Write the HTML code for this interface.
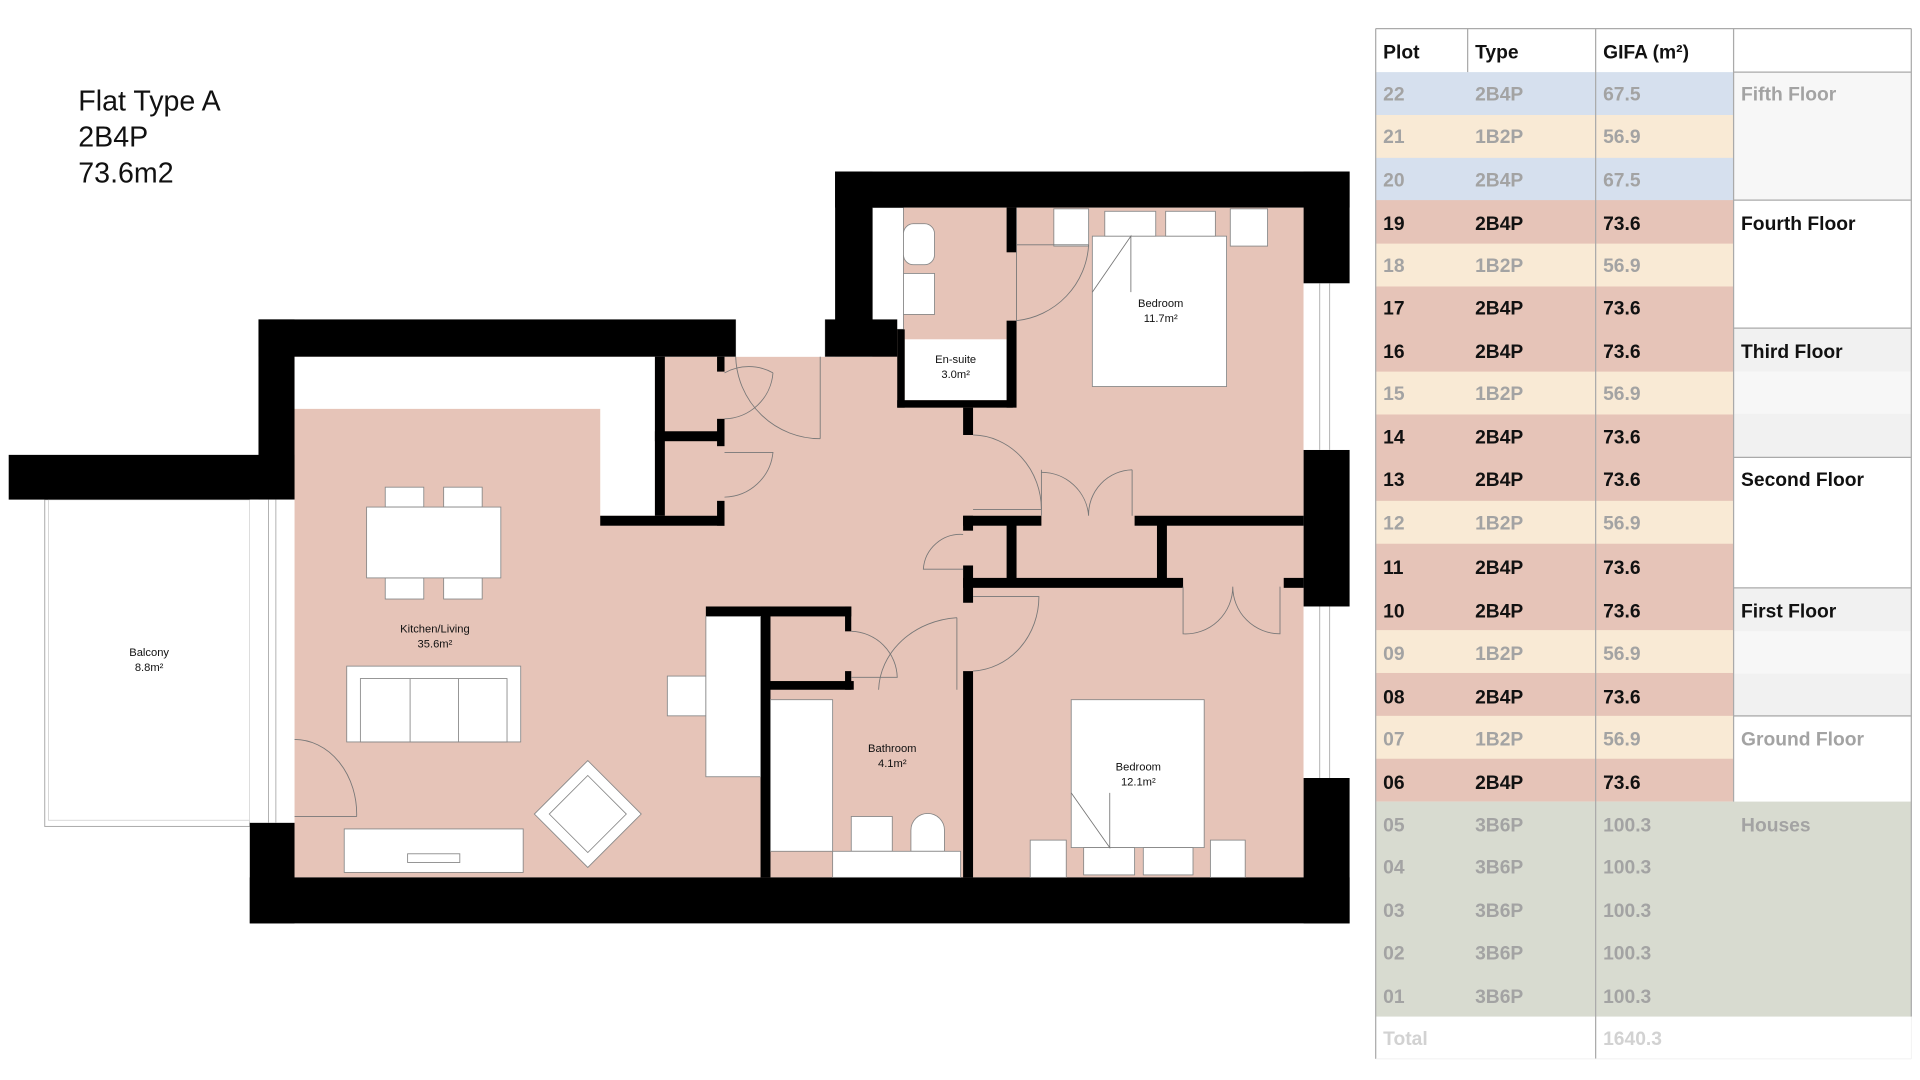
<!DOCTYPE html>
<html><head><meta charset="utf-8"><style>
html,body{margin:0;padding:0;background:#fff;}
svg{display:block;}
.t{font-family:"Liberation Sans",sans-serif;font-weight:bold;font-size:15.5px;}
.l{font-family:"Liberation Sans",sans-serif;font-size:9px;text-anchor:middle;fill:#111;}
.f{fill:#fff;stroke:#888;stroke-width:0.7;}
.d{fill:none;stroke:#777;stroke-width:0.7;}
</style></head><body>
<svg width="1920" height="1080" viewBox="0 0 1545 869" xmlns="http://www.w3.org/2000/svg">
<rect width="1545" height="869" fill="#fff"/>
<g font-family="Liberation Sans, sans-serif" font-size="23" fill="#111">
<text x="63" y="89">Flat Type A</text>
<text x="63" y="118">2B4P</text>
<text x="63" y="147">73.6m2</text>
</g>
<!-- balcony -->
<rect x="36" y="402" width="165" height="263" fill="#fff" stroke="#aaa" stroke-width="0.8"/>
<rect x="39" y="402" width="162" height="258" fill="none" stroke="#ccc" stroke-width="0.6"/>
<text class="l" x="120" y="528">Balcony</text><text class="l" x="120" y="540">8.8m²</text>
<!-- pink interior -->
<polygon points="237,287 702,287 702,167 1049,167 1049,706 237,706" fill="#e6c4b8"/>
<!-- white kitchen L -->
<polygon points="237,287 527,287 527,415 483,415 483,329 237,329" fill="#fff"/>
<rect x="592" y="257" width="80" height="30" fill="#fff"/>
<line x1="592" y1="257" x2="592" y2="287" stroke="#999" stroke-width="0.6"/>
<line x1="664" y1="257" x2="664" y2="287" stroke="#999" stroke-width="0.6"/>
<!-- ensuite -->
<rect x="702" y="167" width="25" height="98" class="f"/>
<rect x="727" y="180" width="25" height="33" class="f" rx="8"/>
<rect x="727" y="220" width="25" height="33" class="f"/>
<rect x="728" y="273" width="82" height="49" fill="#fff"/>
<text class="l" x="769" y="292">En-suite</text><text class="l" x="769" y="304">3.0m²</text>
<!-- black walls -->
<g fill="#000">
<rect x="208" y="257" width="384" height="30"/>
<rect x="208" y="257" width="29" height="145"/>
<rect x="7" y="366" width="230" height="36"/>
<rect x="201" y="662" width="36" height="81"/>
<rect x="201" y="706" width="885" height="37"/>
<rect x="1049" y="138" width="37" height="90"/>
<rect x="1049" y="362" width="37" height="126"/>
<rect x="1049" y="626" width="37" height="117"/>
<rect x="672" y="138" width="414" height="29"/>
<rect x="672" y="138" width="30" height="127"/>
<rect x="664" y="257" width="58" height="30"/>
<rect x="722" y="265" width="6" height="63"/>
<rect x="722" y="322" width="93" height="6"/>
<rect x="810" y="167" width="8" height="36"/>
<rect x="810" y="258" width="8" height="70"/>
<rect x="775" y="328" width="8" height="22"/>
<rect x="775" y="415" width="63" height="8"/>
<rect x="913" y="415" width="136" height="8"/>
<rect x="775" y="415" width="8" height="12"/>
<rect x="775" y="455" width="8" height="30"/>
<rect x="810" y="422" width="8" height="45"/>
<rect x="931" y="422" width="8" height="45"/>
<rect x="775" y="465" width="177" height="8"/>
<rect x="1033" y="465" width="16" height="8"/>
<rect x="775" y="540" width="8" height="166"/>
<rect x="527" y="287" width="8" height="128"/>
<rect x="483" y="415" width="100" height="8"/>
<rect x="527" y="347" width="56" height="8"/>
<rect x="577" y="287" width="6" height="12"/>
<rect x="577" y="337" width="6" height="22"/>
<rect x="577" y="403" width="6" height="20"/>
<rect x="568" y="488" width="117" height="8"/>
<rect x="612" y="488" width="8" height="218"/>
<rect x="680" y="488" width="5" height="20"/>
<rect x="612" y="548" width="75" height="7"/>
<rect x="680" y="540" width="5" height="15"/>
</g>
<!-- windows -->
<rect x="201" y="402" width="36" height="260" fill="#fff"/>
<line x1="216" y1="402" x2="216" y2="662" stroke="#999" stroke-width="0.6"/>
<line x1="222" y1="402" x2="222" y2="662" stroke="#999" stroke-width="0.6"/>
<rect x="1049" y="228" width="37" height="134" fill="#fff"/>
<line x1="1062" y1="228" x2="1062" y2="362" stroke="#999" stroke-width="0.6"/>
<line x1="1070" y1="228" x2="1070" y2="362" stroke="#999" stroke-width="0.6"/>
<rect x="1049" y="488" width="37" height="138" fill="#fff"/>
<line x1="1062" y1="488" x2="1062" y2="626" stroke="#999" stroke-width="0.6"/>
<line x1="1070" y1="488" x2="1070" y2="626" stroke="#999" stroke-width="0.6"/>
<!-- furniture -->
<rect class="f" x="310" y="392" width="31" height="16"/><rect class="f" x="357" y="392" width="31" height="16"/>
<rect class="f" x="310" y="465" width="31" height="17"/><rect class="f" x="357" y="465" width="31" height="17"/>
<rect class="f" x="295" y="408" width="108" height="57"/>
<rect class="f" x="279" y="536" width="140" height="61"/>
<rect class="f" x="290" y="546" width="118" height="51"/>
<line x1="330" y1="546" x2="330" y2="597" stroke="#888" stroke-width="0.7"/>
<line x1="369" y1="546" x2="369" y2="597" stroke="#888" stroke-width="0.7"/>
<polygon class="f" points="473,612 516,655 473,698 430,655"/>
<polygon class="f" points="473,624 504,655 473,686 442,655"/>
<rect class="f" x="277" y="667" width="144" height="35"/>
<rect class="f" x="328" y="687" width="42" height="7"/>
<rect class="f" x="537" y="544" width="31" height="32"/>
<rect class="f" x="568" y="496" width="44" height="129"/>
<text class="l" x="350" y="509">Kitchen/Living</text><text class="l" x="350" y="521">35.6m²</text>
<!-- bathroom -->
<rect class="f" x="620" y="563" width="50" height="122"/>
<rect class="f" x="685" y="657" width="33" height="28"/>
<path class="f" d="M733,685 V668 A13.5,13.5 0 0 1 760,668 V685 Z"/>
<rect class="f" x="670" y="685" width="103" height="21"/>
<text class="l" x="718" y="605">Bathroom</text><text class="l" x="718" y="617">4.1m²</text>
<!-- bedroom 1 -->
<rect class="f" x="848" y="168" width="28" height="30"/><rect class="f" x="990" y="168" width="30" height="30"/>
<rect class="f" x="879" y="190" width="108" height="121"/>
<rect class="f" x="889" y="170" width="41" height="20"/><rect class="f" x="938" y="170" width="40" height="20"/>
<polyline class="d" points="879,235 910,190 910,235"/>
<text class="l" x="934" y="247">Bedroom</text><text class="l" x="934" y="259">11.7m²</text>
<!-- bedroom 2 -->
<rect class="f" x="862" y="563" width="107" height="119"/>
<rect class="f" x="829" y="676" width="29" height="30"/><rect class="f" x="974" y="676" width="28" height="30"/>
<rect class="f" x="872" y="682" width="41" height="22"/><rect class="f" x="920" y="682" width="40" height="22"/>
<polyline class="d" points="862,638 893,682 893,638"/>
<text class="l" x="916" y="620">Bedroom</text><text class="l" x="916" y="632">12.1m²</text>
<!-- doors -->
<g class="d">
<path d="M237,595 A50,60 0 0 1 287,657"/><line x1="237" y1="657" x2="287" y2="657"/>
<path d="M583,300 A40,40 0 0 1 622,300 M622,300 A40,40 0 0 1 583,337"/>
<path d="M592,287 A68,68 0 0 0 660,353"/><line x1="660" y1="287" x2="660" y2="353"/>
<path d="M583,364 L622,364 A40,40 0 0 1 583,400"/>
<path d="M783,350 A56,60 0 0 1 838,410"/><line x1="783" y1="410" x2="838" y2="410"/>
<path d="M838,380 A38,38 0 0 1 876,415 M876,415 A36,36 0 0 1 911,378"/>
<line x1="838" y1="378" x2="838" y2="415"/><line x1="911" y1="378" x2="911" y2="415"/>
<path d="M775,430 A30,30 0 0 0 743,458 L775,458"/>
<path d="M783,480 L836,480 A56,60 0 0 1 783,540"/>
<path d="M685,508 A38,38 0 0 1 722,545 L685,545"/>
<path d="M770,497 A68,60 0 0 0 707,555"/><line x1="770" y1="497" x2="770" y2="555"/>
<path d="M952,472 V510 A38,38 0 0 0 992,472 A38,38 0 0 0 1030,510 V472"/>
<path d="M818,167 V258 A65,65 0 0 0 876,197"/><line x1="818" y1="197" x2="876" y2="197"/>
</g>
<!-- TABLE -->
<g>
<rect x="1107" y="58" width="288" height="104" fill="#d6e0ee"/>
<rect x="1107" y="92.5" width="288" height="34.5" fill="#f9ead5"/>
<rect x="1107" y="161" width="288" height="484" fill="#e6c4b8"/>
<rect x="1107" y="196" width="288" height="34.5" fill="#f9ead5"/>
<rect x="1107" y="299" width="288" height="34.5" fill="#f9ead5"/>
<rect x="1107" y="403" width="288" height="34.5" fill="#f9ead5"/>
<rect x="1107" y="507" width="288" height="34.5" fill="#f9ead5"/>
<rect x="1107" y="576" width="288" height="34.5" fill="#f9ead5"/>
<rect x="1395" y="58" width="143" height="103" fill="#f7f7f7"/>
<rect x="1395" y="264" width="143" height="35" fill="#f1f1f1"/>
<rect x="1395" y="299" width="143" height="34" fill="#f7f7f7"/>
<rect x="1395" y="333" width="143" height="35" fill="#f1f1f1"/>
<rect x="1395" y="473" width="143" height="35" fill="#f1f1f1"/>
<rect x="1395" y="508" width="143" height="34" fill="#f7f7f7"/>
<rect x="1395" y="542" width="143" height="35" fill="#f1f1f1"/>
<rect x="1107" y="645" width="431" height="173" fill="#d8dbd0"/>
<g stroke="#aaa" stroke-width="1" fill="none">
<line x1="1107" y1="23" x2="1538" y2="23"/>
<line x1="1107" y1="23" x2="1107" y2="852"/>
<line x1="1181" y1="23" x2="1181" y2="58"/><line x1="1284" y1="23" x2="1284" y2="852"/>
<line x1="1395" y1="23" x2="1395" y2="645"/><line x1="1538" y1="23" x2="1538" y2="818"/>
<line x1="1395" y1="58" x2="1538" y2="58"/>
<line x1="1395" y1="161" x2="1538" y2="161"/><line x1="1395" y1="264" x2="1538" y2="264"/>
<line x1="1395" y1="368" x2="1538" y2="368"/><line x1="1395" y1="473" x2="1538" y2="473"/>
<line x1="1395" y1="576" x2="1538" y2="576"/>
</g>
<g stroke="#eee" stroke-width="0.6"><line x1="1107" y1="852" x2="1538" y2="852"/><line x1="1538" y1="818" x2="1538" y2="852"/></g>
<g class="t" fill="#111"><text x="1113" y="47">Plot</text><text x="1187" y="47">Type</text><text x="1290" y="47">GIFA (m²)</text></g>
<g class="t" fill="#a3a3a3">
<text x="1113" y="81">22</text><text x="1187" y="81">2B4P</text><text x="1290" y="81">67.5</text>
<text x="1113" y="115">21</text><text x="1187" y="115">1B2P</text><text x="1290" y="115">56.9</text>
<text x="1113" y="150">20</text><text x="1187" y="150">2B4P</text><text x="1290" y="150">67.5</text>
<text x="1113" y="219">18</text><text x="1187" y="219">1B2P</text><text x="1290" y="219">56.9</text>
<text x="1113" y="322">15</text><text x="1187" y="322">1B2P</text><text x="1290" y="322">56.9</text>
<text x="1113" y="426">12</text><text x="1187" y="426">1B2P</text><text x="1290" y="426">56.9</text>
<text x="1113" y="531">09</text><text x="1187" y="531">1B2P</text><text x="1290" y="531">56.9</text>
<text x="1113" y="600">07</text><text x="1187" y="600">1B2P</text><text x="1290" y="600">56.9</text>
<text x="1113" y="669">05</text><text x="1187" y="669">3B6P</text><text x="1290" y="669">100.3</text>
<text x="1113" y="703">04</text><text x="1187" y="703">3B6P</text><text x="1290" y="703">100.3</text>
<text x="1113" y="738">03</text><text x="1187" y="738">3B6P</text><text x="1290" y="738">100.3</text>
<text x="1113" y="772">02</text><text x="1187" y="772">3B6P</text><text x="1290" y="772">100.3</text>
<text x="1113" y="807">01</text><text x="1187" y="807">3B6P</text><text x="1290" y="807">100.3</text>
<text x="1401" y="81">Fifth Floor</text><text x="1401" y="600">Ground Floor</text><text x="1401" y="669">Houses</text>
</g>
<g class="t" fill="#111">
<text x="1113" y="185">19</text><text x="1187" y="185">2B4P</text><text x="1290" y="185">73.6</text>
<text x="1113" y="253">17</text><text x="1187" y="253">2B4P</text><text x="1290" y="253">73.6</text>
<text x="1113" y="288">16</text><text x="1187" y="288">2B4P</text><text x="1290" y="288">73.6</text>
<text x="1113" y="357">14</text><text x="1187" y="357">2B4P</text><text x="1290" y="357">73.6</text>
<text x="1113" y="391">13</text><text x="1187" y="391">2B4P</text><text x="1290" y="391">73.6</text>
<text x="1113" y="462">11</text><text x="1187" y="462">2B4P</text><text x="1290" y="462">73.6</text>
<text x="1113" y="497">10</text><text x="1187" y="497">2B4P</text><text x="1290" y="497">73.6</text>
<text x="1113" y="566">08</text><text x="1187" y="566">2B4P</text><text x="1290" y="566">73.6</text>
<text x="1113" y="635">06</text><text x="1187" y="635">2B4P</text><text x="1290" y="635">73.6</text>
<text x="1401" y="185">Fourth Floor</text><text x="1401" y="288">Third Floor</text>
<text x="1401" y="391">Second Floor</text><text x="1401" y="497">First Floor</text>
</g>
<g class="t" fill="#d2d2d2"><text x="1113" y="841">Total</text><text x="1290" y="841">1640.3</text></g>
</g>
</svg>
</body></html>
